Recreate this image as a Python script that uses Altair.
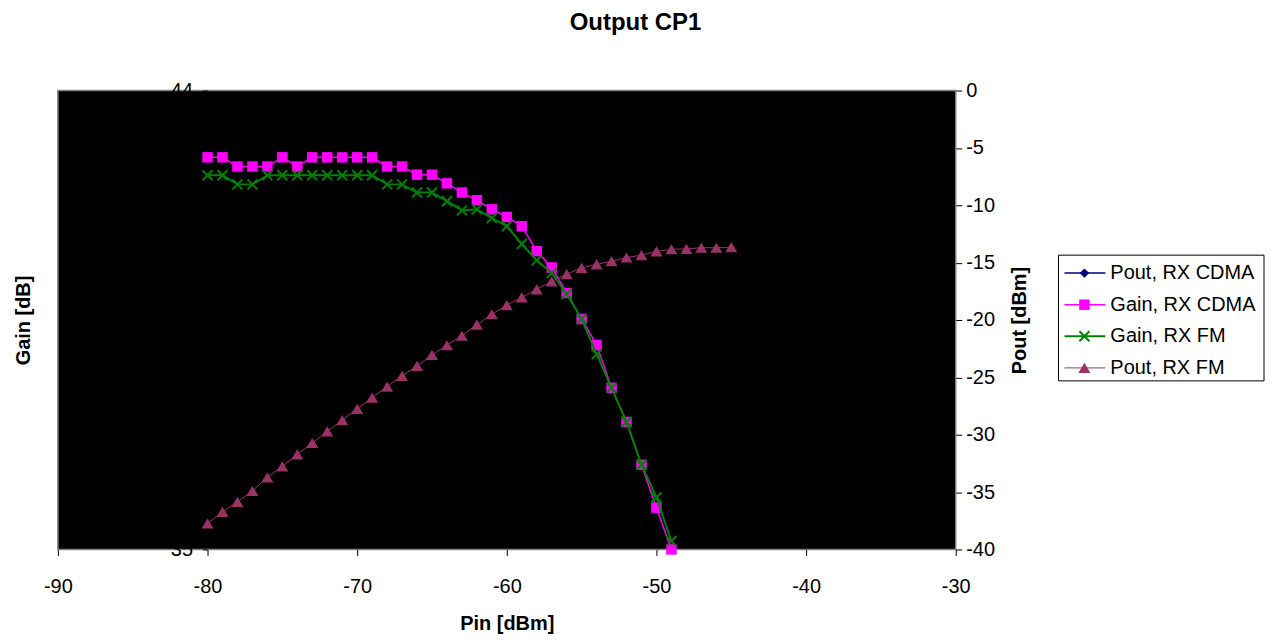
import altair as alt
import pandas as pd

# ---------------- data ----------------
pin = list(range(-80, -48))  # -80 .. -49
gain_cdma = [42.69, 42.69, 42.51, 42.51, 42.51, 42.69, 42.51, 42.69, 42.69, 42.69,
             42.69, 42.69, 42.51, 42.51, 42.35, 42.35, 42.18, 42.00, 41.85, 41.67,
             41.52, 41.34, 40.85, 40.53, 40.03, 39.52, 39.01, 38.17, 37.50, 36.66,
             35.82, 35.00]
gain_fm = [42.34, 42.34, 42.16, 42.16, 42.34, 42.34, 42.34, 42.34, 42.34, 42.34,
           42.34, 42.34, 42.16, 42.16, 42.00, 42.00, 41.83, 41.65, 41.67, 41.50,
           41.34, 40.99, 40.67, 40.42, 40.01, 39.52, 38.83, 38.17, 37.50, 36.66,
           36.02, 35.16]
pin_fm = list(range(-80, -44))  # -80 .. -45
pout_fm = [-37.74, -36.72, -35.85, -34.90, -33.71, -32.76, -31.71, -30.72, -29.71, -28.72,
           -27.74, -26.76, -25.80, -24.87, -24.00, -23.04, -22.20, -21.37, -20.41, -19.50,
           -18.70, -18.03, -17.33, -16.63, -16.00, -15.45, -15.15, -14.87, -14.55, -14.35,
           -14.02, -13.83, -13.80, -13.70, -13.70, -13.65]

series_names = ["Pout, RX CDMA", "Gain, RX CDMA", "Gain, RX FM", "Pout, RX FM"]
series_colors = ["#000080", "#FF00FF", "#008000", "#993366"]

x_ticks = [-90, -80, -70, -60, -50, -40, -30]
gain_ticks = list(range(35, 45))
pout_ticks = [0, -5, -10, -15, -20, -25, -30, -35, -40]

# ---------------- styles ----------------
FONT = "Liberation Sans"
SQUARE = "square"
XMARK = "M-1,-1L1,1M-1,1L1,-1"
TRIANGLE = "M0,-0.85L1,0.85L-1,0.85Z"
DIAMOND = "M0,-1L1,0L0,1L-1,0Z"
marker_shapes = [DIAMOND, SQUARE, XMARK, TRIANGLE]
marker_sizes = [90, 110, 100, 144]
marker_filled = [True, True, False, True]
line_widths = [1.5, 1.5, 2, 1]
LABEL_EXPR = "'' + datum.value"  # plain hyphen minus, as in the reference

W, H = 900, 460

df_gain = pd.DataFrame({"pin": pin, "cdma": gain_cdma, "fm": gain_fm})
df_pout = pd.DataFrame({"pin": pin_fm, "pout": pout_fm})

x_enc = alt.X(
    "pin:Q",
    scale=alt.Scale(domain=[-90, -30], nice=False, zero=False),
    axis=alt.Axis(values=x_ticks, title="Pin [dBm]", grid=False, domain=False,
                  tickSize=6, labelPadding=31, labelBaseline="middle", labelFlush=False,
                  labelExpr=LABEL_EXPR,
                  titleX=W / 2, titleY=74, titleBaseline="middle"),
)

gain_axis = alt.Axis(orient="left", values=gain_ticks, offset=-150, title="Gain [dB]",
                     grid=False, domain=False, tickSize=5, labelPadding=10, labelFlush=False,
                     labelExpr=LABEL_EXPR,
                     titleX=-184, titleY=H / 2, titleAngle=270, titleBaseline="middle")
gain_scale = alt.Scale(domain=[35, 44], nice=False, zero=False)

pout_axis = alt.Axis(orient="right", values=pout_ticks, title="Pout [dBm]",
                     grid=False, domain=False, tickSize=6, labelPadding=4, labelFlush=False,
                     labelExpr=LABEL_EXPR,
                     titleX=64, titleY=H / 2, titleAngle=270, titleBaseline="middle")
pout_scale = alt.Scale(domain=[-40, 0], nice=False, zero=False)


def series_layers(df, field, idx, yscale, yaxis):
    color = series_colors[idx]
    y = alt.Y(f"{field}:Q", scale=yscale, axis=yaxis)
    line = alt.Chart(df).mark_line(color=color, strokeWidth=line_widths[idx]).encode(x=x_enc, y=y)
    pts = alt.Chart(df).mark_point(
        shape=marker_shapes[idx], size=marker_sizes[idx], filled=marker_filled[idx],
        color=color, opacity=1, strokeWidth=2 if not marker_filled[idx] else 1,
    ).encode(x=x_enc, y=y)
    return [line, pts]


gain_group = alt.layer(
    *series_layers(df_gain, "cdma", 1, gain_scale, gain_axis),
    *series_layers(df_gain, "fm", 2, gain_scale, gain_axis),
)
pout_group = alt.layer(*series_layers(df_pout, "pout", 3, pout_scale, pout_axis))

# ---------------- legend box (manual) ----------------
df_leg = pd.DataFrame({"series": series_names, "color": series_colors})
leg_y = alt.Y("series:N", sort=series_names,
              scale=alt.Scale(type="point", domain=series_names, range=[183, 278], padding=0),
              axis=None)
legend_box = alt.Chart(pd.DataFrame({"k": [0]})).mark_rect(
    fill="white", stroke="black", strokeWidth=1
).encode(x=alt.value(1003), x2=alt.value(1209), y=alt.value(165), y2=alt.value(291))
leg_layers = [legend_box]
for i, name in enumerate(series_names):
    sub = alt.Chart(df_leg).transform_filter(alt.datum.series == name)
    leg_layers.append(
        sub.mark_rule(color=series_colors[i], strokeWidth=line_widths[i]).encode(
            x=alt.value(1009), x2=alt.value(1050), y=leg_y)
    )
    leg_layers.append(
        sub.mark_point(shape=marker_shapes[i], size=marker_sizes[i], filled=marker_filled[i],
                       color=series_colors[i], opacity=1,
                       strokeWidth=2 if not marker_filled[i] else 1).encode(
            x=alt.value(1029), y=leg_y)
    )
leg_layers.append(
    alt.Chart(df_leg).mark_text(align="left", baseline="middle", fontSize=20, font=FONT,
                                color="black").encode(x=alt.value(1055), y=leg_y, text="series:N")
)
legend_group = alt.layer(*leg_layers)

chart = alt.layer(gain_group, pout_group, legend_group).resolve_scale(
    y="independent"
).properties(
    width=W,
    height=H,
    autosize=alt.AutoSizeParams(type="none"),
    padding={"left": 50, "top": 82, "right": 310, "bottom": 88},
    title=alt.TitleParams("Output CP1", fontSize=24, fontWeight="bold", font=FONT,
                          anchor="middle", offset=46, dx=129, color="black"),
).configure_view(
    fill="black", stroke="#808080", strokeWidth=1.5
).configure_axis(
    labelFont=FONT, labelFontSize=20, labelColor="black",
    titleFont=FONT, titleFontSize=20, titleFontWeight="bold", titleColor="black",
    tickColor="black", tickWidth=1,
)

chart.save("out.html", embed_options={"renderer": "svg", "actions": False})
